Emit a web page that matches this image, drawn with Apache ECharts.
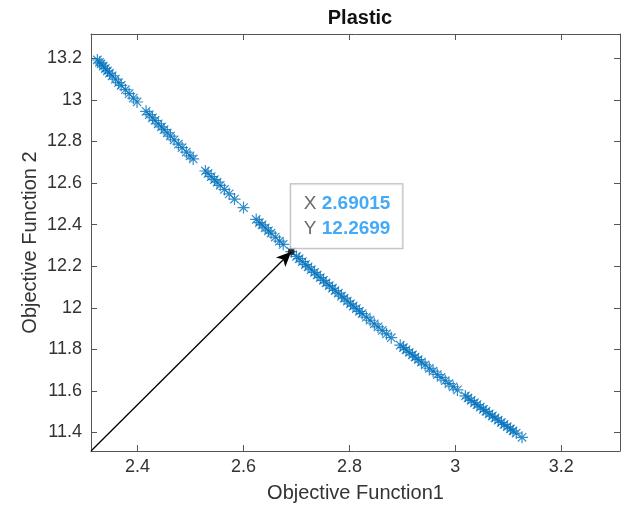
<!DOCTYPE html>
<html>
<head>
<meta charset="utf-8">
<script src="https://cdn.jsdelivr.net/npm/echarts@6/dist/echarts.min.js"></script>
<style>
  html, body { margin: 0; padding: 0; background: #fff; }
  #chart { width: 624px; height: 511px; }
</style>
</head>
<body>
<div id="chart"></div>
<script>
// Pareto front values
const obj1 = [
  2.324, 2.328, 2.331, 2.335, 2.339, 2.343, 2.347, 2.352, 2.358, 2.364, 2.369, 2.377, 2.384, 2.392, 2.399,
  2.416, 2.422, 2.428, 2.433, 2.439, 2.445, 2.450, 2.456, 2.462, 2.469, 2.477, 2.484, 2.492, 2.499, 2.505,
  2.528, 2.533, 2.539, 2.545, 2.550, 2.556, 2.564, 2.573, 2.583,
  2.600,
  2.624, 2.630, 2.635, 2.641, 2.647, 2.652, 2.660, 2.668, 2.675,
  2.69015,
  2.700, 2.705, 2.711, 2.717, 2.722, 2.728, 2.734, 2.739, 2.745, 2.751, 2.756, 2.762, 2.768, 2.773, 2.779,
  2.785, 2.790, 2.796, 2.802, 2.807, 2.813, 2.819, 2.824, 2.832, 2.839, 2.847, 2.854, 2.862, 2.870, 2.879,
  2.896, 2.902, 2.907, 2.913, 2.919, 2.924, 2.930, 2.936, 2.943, 2.951, 2.958, 2.966, 2.973, 2.981, 2.988, 2.996, 3.004,
  3.019, 3.024, 3.030, 3.036, 3.041, 3.047, 3.053, 3.058, 3.064, 3.070, 3.075, 3.081, 3.087, 3.092, 3.098, 3.104, 3.109, 3.115,
  3.126
];
const obj2 = [
  13.192, 13.181, 13.173, 13.162, 13.151, 13.140, 13.129, 13.116, 13.100, 13.083, 13.070, 13.049, 13.030, 13.009, 12.990,
  12.945, 12.929, 12.914, 12.901, 12.885, 12.870, 12.857, 12.841, 12.826, 12.808, 12.787, 12.770, 12.749, 12.731, 12.716,
  12.658, 12.646, 12.631, 12.616, 12.604, 12.589, 12.569, 12.548, 12.523,
  12.482,
  12.425, 12.410, 12.399, 12.384, 12.370, 12.359, 12.340, 12.321, 12.305,
  12.2699,
  12.247, 12.236, 12.222, 12.208, 12.197, 12.183, 12.170, 12.158, 12.145, 12.132, 12.120, 12.107, 12.094, 12.083, 12.070,
  12.056, 12.046, 12.032, 12.019, 12.008, 11.996, 11.983, 11.972, 11.955, 11.940, 11.923, 11.908, 11.891, 11.874, 11.856,
  11.820, 11.808, 11.798, 11.785, 11.773, 11.763, 11.751, 11.739, 11.725, 11.709, 11.695, 11.679, 11.665, 11.649, 11.635, 11.620, 11.605,
  11.576, 11.566, 11.555, 11.543, 11.534, 11.522, 11.511, 11.502, 11.490, 11.479, 11.470, 11.459, 11.448, 11.439, 11.428, 11.417, 11.408, 11.397,
  11.377
];

// the data tip
const tipX = 2.69015;
const tipY = 12.2699;

const xTicks = [2.4, 2.6, 2.8, 3, 3.2];
const yTicks = [11.4, 11.6, 11.8, 12, 12.2, 12.4, 12.6, 12.8, 13, 13.2];
const xMin = 2.312, xMax = 3.311;
const yMin = 11.311, yMax = 13.317;

const FONT = 'Liberation Sans';
const AXIS_COLOR = '#555';
const TEXT_COLOR = '#333';
const BLUE = '#0072BD';

const points = obj1.map((x, i) => [x, obj2[i]]);

const chart = echarts.init(document.getElementById('chart'), null, { renderer: 'canvas' });

// shared look for the box axes
const tick = { show: true, inside: true, length: 6, lineStyle: { color: AXIS_COLOR, width: 1 } };
const line = { show: true, onZero: false, lineStyle: { color: AXIS_COLOR, width: 1 } };

chart.setOption({
  animation: false,
  title: {
    text: 'Plastic',
    left: 355, top: 3, textAlign: 'center',
    textStyle: { fontFamily: FONT, fontSize: 20, fontWeight: 'bold', color: '#111' }
  },
  grid: { left: 91, right: 4, top: 34, bottom: 60 },
  xAxis: [
    {
      type: 'value', position: 'bottom', min: xMin, max: xMax,
      name: 'Objective Function1', nameLocation: 'middle', nameGap: 32,
      nameMoveOverlap: false,
      nameTextStyle: { fontFamily: FONT, fontSize: 20, color: TEXT_COLOR },
      axisLine: line,
      axisTick: Object.assign({}, tick, { customValues: xTicks }),
      axisLabel: { customValues: xTicks, margin: 7, fontFamily: FONT, fontSize: 18, color: TEXT_COLOR },
      splitLine: { show: false }
    },
    {
      type: 'value', position: 'top', min: xMin, max: xMax,
      axisLine: line,
      axisTick: Object.assign({}, tick, { customValues: xTicks }),
      axisLabel: { show: false },
      splitLine: { show: false }
    }
  ],
  yAxis: [
    {
      type: 'value', position: 'left', min: yMin, max: yMax,
      name: 'Objective Function 2', nameLocation: 'middle', nameGap: 51,
      nameMoveOverlap: false,
      nameTextStyle: { fontFamily: FONT, fontSize: 20, color: TEXT_COLOR },
      axisLine: line,
      axisTick: Object.assign({}, tick, { customValues: yTicks }),
      axisLabel: { customValues: yTicks, margin: 9, fontFamily: FONT, fontSize: 18, color: TEXT_COLOR },
      splitLine: { show: false }
    },
    {
      type: 'value', position: 'right', min: yMin, max: yMax,
      axisLine: line,
      axisTick: Object.assign({}, tick, { customValues: yTicks }),
      axisLabel: { show: false },
      splitLine: { show: false }
    }
  ],
  series: [
    {
      type: 'scatter',
      data: points,
      symbol: 'path://M10,0L10,20M0,10L20,10M3,3L17,17M3,17L17,3',
      symbolSize: 12,
      itemStyle: { color: 'rgba(0,0,0,0)', borderColor: BLUE, borderWidth: 1.2 },
      emphasis: { disabled: true },
      markLine: {
        silent: true,
        symbol: ['none', 'arrow'],
        symbolSize: [10, 15],
        label: { show: false },
        lineStyle: { color: '#000', width: 1.3, type: 'solid' },
        data: [[{ coord: [xMin, yMin] }, { coord: [tipX, tipY] }]]
      }
    },
    {
      type: 'scatter',
      data: [[tipX, tipY]],
      symbol: 'circle',
      symbolSize: 7,
      z: 5,
      itemStyle: { color: '#111' },
      emphasis: { disabled: true },
      label: {
        show: true,
        position: [3, -64],
        backgroundColor: 'rgba(255,255,255,0.95)',
        borderColor: '#a6a6a6',
        borderWidth: 1,
        padding: [7, 12, 7, 13],
        formatter: () => '{l|X}{v|' + tipX + '}\n{l|Y}{v|' + tipY + '}',
        rich: {
          l: { fontFamily: FONT, fontSize: 19, color: '#444', lineHeight: 25, width: 18 },
          v: { fontFamily: FONT, fontSize: 19, fontWeight: 'bold', color: '#1593f5', lineHeight: 25 }
        }
      }
    }
  ]
});
</script>
</body>
</html>
